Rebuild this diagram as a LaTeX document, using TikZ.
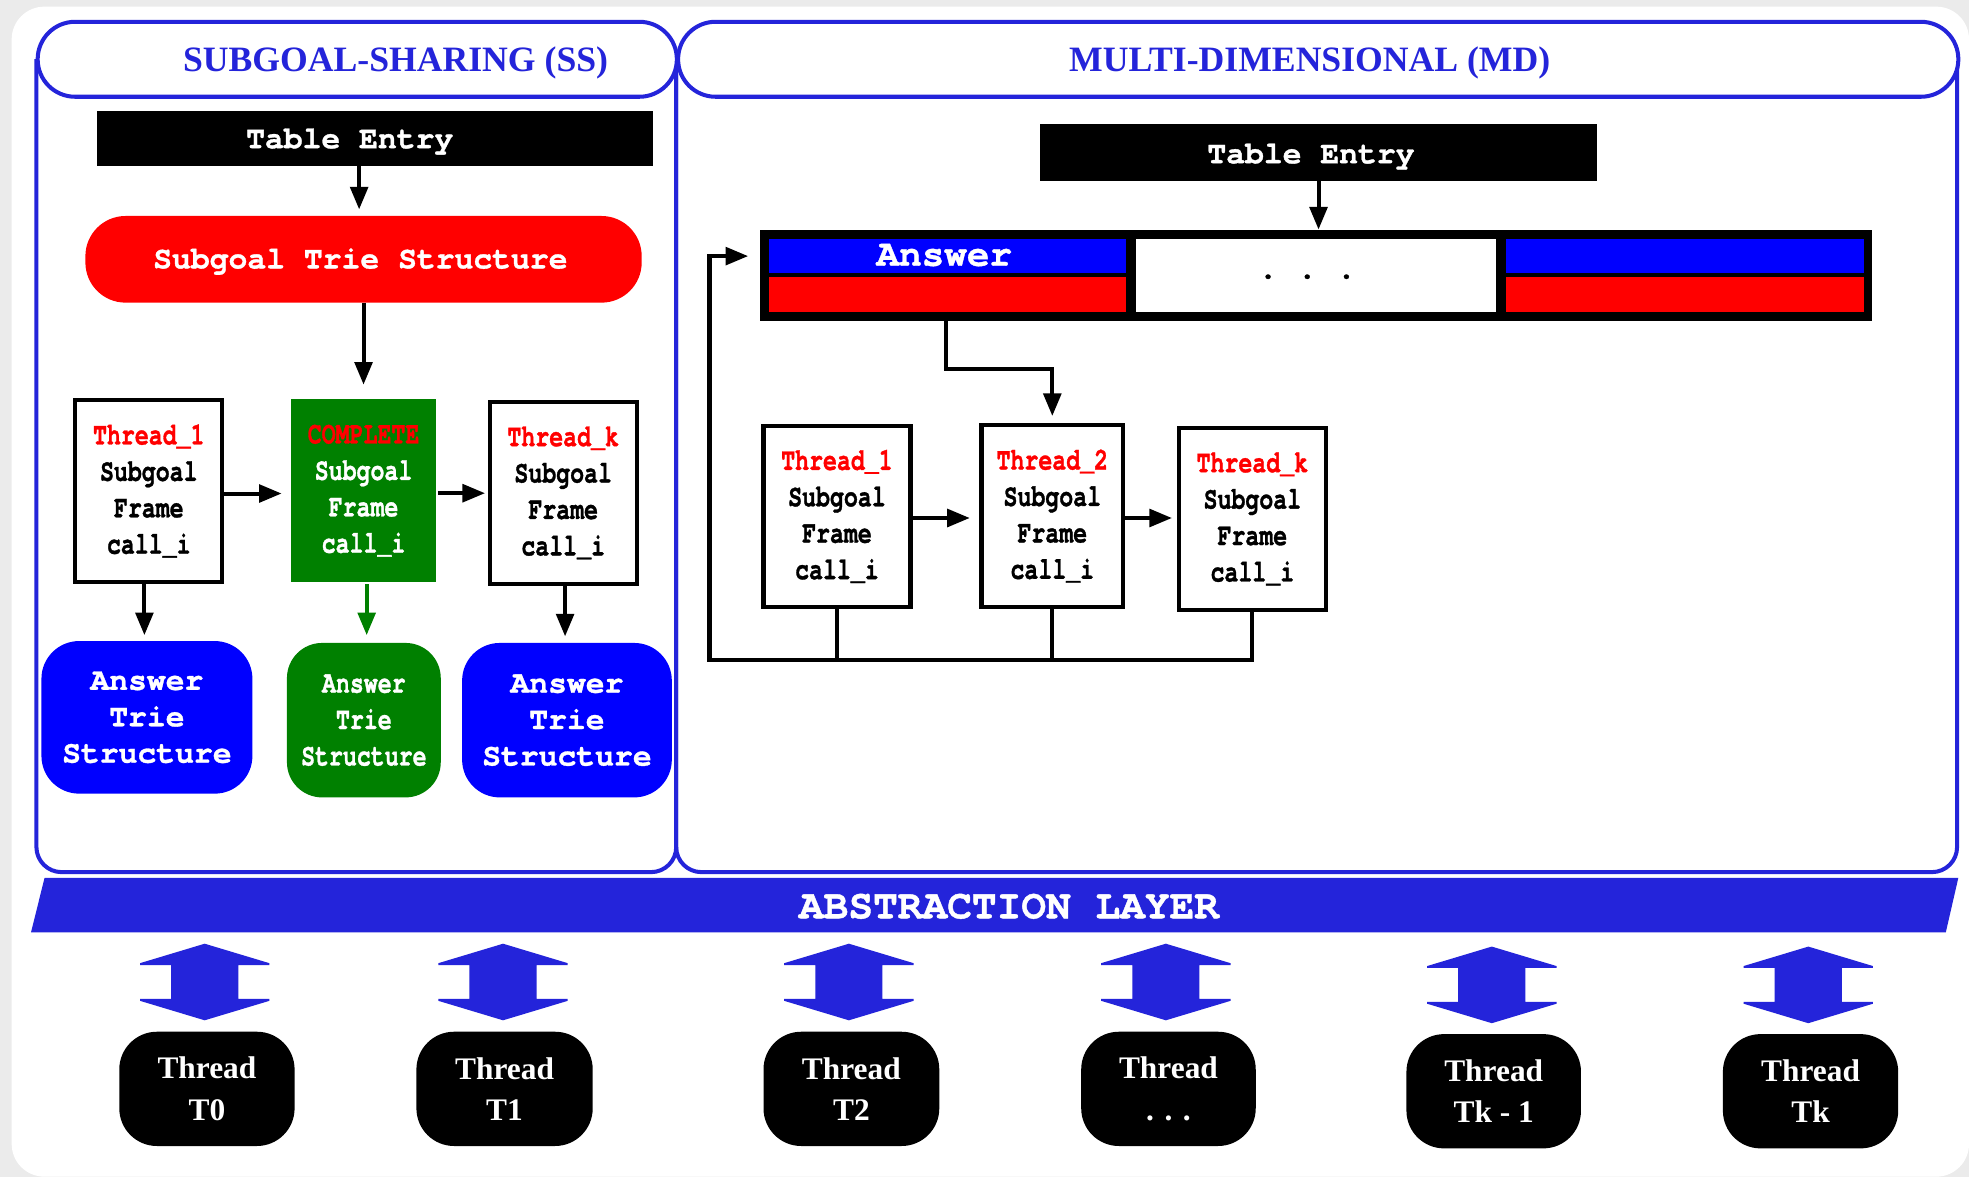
\documentclass[tikz,border=0pt]{standalone}
\usepackage{fontspec}
\usetikzlibrary{arrows.meta,calc}

\newfontfamily\cour{TeX Gyre Cursor}[BoldFeatures={FakeBold=1}]
\newfontfamily\courc{TeX Gyre Cursor}[FakeStretch=0.74, BoldFeatures={FakeBold=1}]
\newfontfamily\tms{Liberation Serif}

\definecolor{frameblue}{RGB}{36,36,218}
\definecolor{pureblue}{RGB}{0,0,255}
\definecolor{fgreen}{RGB}{0,128,0}
\definecolor{bggray}{RGB}{235,235,235}

\tikzset{
  frame/.style={draw=frameblue, line width=3.2pt, rounded corners=20pt},
  capsule/.style={draw=frameblue, line width=3.2pt, fill=white, rounded corners=29.8pt, inner sep=0pt},
  titletext/.style={font=\tms\bfseries\fontsize{28.4}{32}\selectfont, text=frameblue, inner sep=0pt, anchor=base},
  blackbar/.style={fill=black, inner sep=0pt},
  monotext/.style={font=\cour\bfseries\fontsize{25}{29}\selectfont, text=white, inner sep=0pt, anchor=base},
  framebox/.style={draw=black, line width=3.4pt, fill=white, inner sep=0pt, align=center,
                   font=\courc\bfseries\fontsize{25}{29}\selectfont},
  ansbox/.style={rounded corners=30pt, inner sep=0pt, align=center, text=white,
                 font=\cour\bfseries\fontsize{25}{29}\selectfont},
  cell/.style={inner sep=0pt},
  arr/.style={line width=3.2pt, -{Triangle[length=18pt,width=14pt]}},
  link/.style={line width=3.2pt},
  threadnode/.style={fill=black, rounded corners=30pt, inner sep=0pt, align=center, text=white,
                     font=\tms\bfseries\fontsize{25}{33}\selectfont},
  dblarrow/.pic={
    \fill[frameblue] (0,-30.5) -- (51.5,-15) -- (51.5,-13.5) -- (26.75,-13.5) -- (26.75,13.5)
      -- (51.5,13.5) -- (51.5,15) -- (0,30.5) -- (-51.5,15) -- (-51.5,13.5) -- (-26.75,13.5)
      -- (-26.75,-13.5) -- (-51.5,-13.5) -- (-51.5,-15) -- cycle;
  },
}

\begin{document}
\begin{tikzpicture}[x=1pt,y=-1pt]
  \useasboundingbox (0,0) rectangle (1568,937);
  % page background and white panel
  \fill[bggray] (0,0) rectangle (1568,937);
  \fill[white, rounded corners=26pt] (9.3,5.3) rectangle (1568,937);

  % ---------- section frames ----------
  \draw[frame] (29,47) -- (29,694.5) -- (538.5,694.5) -- (538.5,47);
  \draw[frame] (538.5,47) -- (538.5,694.5) -- (1558.5,694.5) -- (1558.5,47);
  \node[capsule, minimum width=509pt, minimum height=59.7pt] (ssCap) at (284.5,47.2) {};
  \node[capsule, minimum width=1019.5pt, minimum height=59.7pt] (mdCap) at (1049.75,47.2) {};
  \node[titletext] (ssTitle) at (315,57) {SUBGOAL-SHARING (SS)};
  \node[titletext] (mdTitle) at (1043,57) {MULTI-DIMENSIONAL (MD)};

  % ---------- subgoal-sharing ----------
  \node[blackbar, minimum width=443pt, minimum height=44pt] (ssTE) at (298.5,110) {};
  \node[monotext] (ssTEtxt) at (278.5,118) {Table Entry};
  \node[fill=red, rounded corners=32pt, inner sep=0pt, minimum width=443pt, minimum height=69pt] (ssST) at (289.5,206.5) {};
  \node[monotext] (ssSTtxt) at (287,213.7) {Subgoal Trie Structure};

  \node[framebox, minimum width=117pt, minimum height=145pt] (ssT1) at (118.5,391)
    {\textcolor{red}{Thread\_1}\\Subgoal\\Frame\\call\_i};
  \node[framebox, draw=none, fill=fgreen, text=white, minimum width=115pt, minimum height=145.5pt] (ssC) at (289.5,390.75)
    {\textcolor{red}{COMPLETE}\\Subgoal\\Frame\\call\_i};
  \node[framebox, minimum width=117pt, minimum height=145pt] (ssTk) at (448.5,392.5)
    {\textcolor{red}{Thread\_k}\\Subgoal\\Frame\\call\_i};

  \node[ansbox, fill=pureblue, minimum width=168pt, minimum height=121.5pt] (ssA1) at (117,571.25)
    {Answer\\Trie\\Structure};
  \node[ansbox, fill=fgreen, rounded corners=28pt, font=\courc\bfseries\fontsize{25}{29}\selectfont,
        minimum width=122.5pt, minimum height=123pt] (ssA2) at (289.75,573.5)
    {Answer\\Trie\\Structure};
  \node[ansbox, fill=pureblue, minimum width=167pt, minimum height=123pt] (ssA3) at (451.5,573.5)
    {Answer\\Trie\\Structure};

  \draw[arr, shorten >=5pt] ([xshift=-3.5pt]ssST.north |- ssTE.south) -- ([xshift=-3.5pt]ssST.north);
  \draw[arr, shorten >=10pt] (ssST.south -| ssC.north) -- (ssC.north);
  \draw[arr, shorten >=6pt] ([yshift=-2pt]ssT1.east) -- ([yshift=-2pt]ssT1.east -| ssC.west);
  \draw[arr, shorten >=2pt] ([yshift=-2pt]ssC.east) -- ([yshift=-2pt]ssC.east -| ssTk.west);
  \draw[arr, shorten >=4.5pt] ([xshift=-3.5pt]ssT1.south) -- ([xshift=-3.5pt]ssT1.south |- ssA1.north);
  \draw[arr, draw=fgreen, shorten >=6pt] ([xshift=2.5pt]ssC.south) -- ([xshift=2.5pt]ssC.south |- ssA2.north);
  \draw[arr, shorten >=5pt] ([xshift=1.5pt]ssTk.south) -- ([xshift=1.5pt]ssTk.south |- ssA3.north);

  % ---------- multi-dimensional ----------
  \node[blackbar, minimum width=444pt, minimum height=45pt] (mdTE) at (1050,121.5) {};
  \node[monotext] (mdTEtxt) at (1044,130) {Table Entry};

  % answer array: black frame with three cells
  \node[blackbar, minimum width=886pt, minimum height=72.5pt] (arr) at (1048,219.25) {};
  \node[cell, fill=pureblue, minimum width=284.4pt, minimum height=27.3pt] (ansTop) at (754.8,203.95) {};
  \node[cell, fill=red, minimum width=284.4pt, minimum height=27.9pt] (ansBot) at (754.8,234.25) {};
  \node[cell, fill=white, minimum width=286pt, minimum height=57.9pt] (midCell) at (1048,219.25) {};
  \node[cell, fill=pureblue, minimum width=285.5pt, minimum height=27.3pt] (lastTop) at (1341.75,203.95) {};
  \node[cell, fill=red, minimum width=285.5pt, minimum height=27.9pt] (lastBot) at (1341.75,234.25) {};
  \node[monotext, font=\cour\bfseries\fontsize{30}{34}\selectfont] (ansTxt) at (752,211.6) {Answer};
  \node[monotext, text=black, font=\cour\bfseries\fontsize{26}{30}\selectfont] (dots) at (1041,221.7) {.~.~.};

  \node[framebox, minimum width=117pt, minimum height=144.5pt] (mdT1) at (666.5,411.25)
    {\textcolor{red}{Thread\_1}\\Subgoal\\Frame\\call\_i};
  \node[framebox, minimum width=113pt, minimum height=145pt] (mdT2) at (838,411)
    {\textcolor{red}{Thread\_2}\\Subgoal\\Frame\\call\_i};
  \node[framebox, minimum width=117.4pt, minimum height=145.4pt] (mdTk) at (997.3,413.3)
    {\textcolor{red}{Thread\_k}\\Subgoal\\Frame\\call\_i};

  \coordinate (ansBend) at (753,294);
  \coordinate (loopBL) at (565,525.5);

  \draw[arr] (mdTE.south) -- (mdTE.south |- arr.north);
  \draw[arr, shorten >=5.5pt] (ansBot.south -| ansBend) -- (ansBend) -| (mdT2.north);
  \draw[arr, shorten >=7.5pt] ([yshift=-1.25pt]mdT1.east) -- ([yshift=-1.25pt]mdT1.east -| mdT2.west);
  \draw[arr, shorten >=3.6pt] ([yshift=-1.5pt]mdT2.east) -- ([yshift=-1.5pt]mdT2.east -| mdTk.west);
  \draw[arr, shorten >=16.6pt] (mdTk.south) |- (loopBL) |- (ansTop.west);
  \draw[link] (mdT1.south) -- (mdT1.south |- loopBL);
  \draw[link] (mdT2.south) -- (mdT2.south |- loopBL);

  % ---------- abstraction layer ----------
  \fill[frameblue] (35.5,699) -- (1559.5,699) -- (1549.5,742.5) -- (24.7,742.5) -- cycle;
  \node[monotext, font=\cour\bfseries\fontsize{32.8}{36}\selectfont] (absTxt) at (803.5,731.3) {ABSTRACTION LAYER};

  \pic at (163,782) {dblarrow};
  \pic at (400.6,782) {dblarrow};
  \pic at (676,782) {dblarrow};
  \pic at (928.4,782) {dblarrow};
  \pic at (1188,784.3) {dblarrow};
  \pic at (1440,784.3) {dblarrow};

  % ---------- threads ----------
  \node[threadnode, minimum width=139.6pt, minimum height=91pt] (th0) at (164.8,867.1) {Thread\\T0};
  \node[threadnode, minimum width=140.4pt, minimum height=91pt] (th1) at (401.8,867.1) {Thread\\T1};
  \node[threadnode, minimum width=140pt, minimum height=91pt] (th2) at (678,867.1) {Thread\\T2};
  \node[threadnode, minimum width=139pt, minimum height=91pt] (th3) at (930.5,867.1) {Thread\\. . .};
  \node[threadnode, minimum width=139pt, minimum height=91pt] (th4) at (1189.5,869) {Thread\\Tk - 1};
  \node[threadnode, minimum width=139.6pt, minimum height=91pt] (th5) at (1441.8,869) {Thread\\Tk};
\end{tikzpicture}
\end{document}
